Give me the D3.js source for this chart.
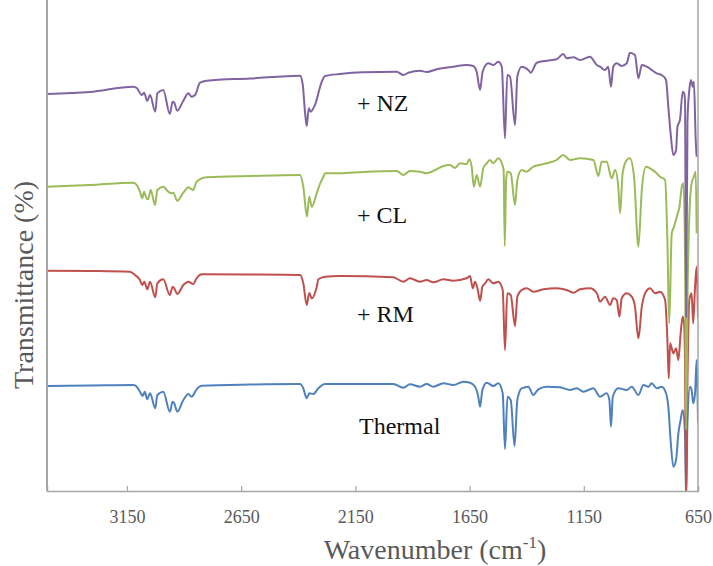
<!DOCTYPE html>
<html>
<head>
<meta charset="utf-8">
<script src="https://cdn.jsdelivr.net/npm/d3@7/dist/d3.min.js"></script>
<style>
  html, body { margin: 0; padding: 0; background: #fff; }
  svg { display: block; }
  text { font-family: "Liberation Serif", "Times New Roman", serif; }
</style>
</head>
<body>
<svg id="chart" width="713" height="566"></svg>
<script>
// ---- Data (wavenumber cm^-1, stacked transmittance in offset units) ----
const xTicks = [3150, 2650, 2150, 1650, 1150, 650];
const seriesNames = ["Thermal", "+ RM", "+ CL", "+ NZ"];

const thermal = [
  [3500,105],[3312,105.5],[3122,106],[3107,104.3],[3093,99.3],[3081,95],[3072,99.3],[3061,91.7],[3049,97.7],
  [3026,82.7],[3017,96],[2991,99.3],[2962,79.3],[2950,89.3],[2943,87.7],[2930,79.3],[2903,91],[2881,97],
  [2867,94.3],[2845,101.7],[2823,105.3],[2611,106.5],[2392,107],[2378,102.7],[2363,92.7],[2352,97.7],
  [2334,97],[2312,102.7],[2283,107],[2217,107],[1984,107],[1940,103.3],[1911,106.7],[1867,104.3],[1838,107],
  [1809,104.3],[1765,107.7],[1721,106],[1677,109.3],[1648,108.3],[1626,104.3],[1612,94.3],[1604,84.3],
  [1594,101],[1575,108.3],[1546,105],[1524,107.7],[1505,97.7],[1495,42],[1484,94.3],[1470,91],[1453,45],
  [1441,91],[1422,102.7],[1393,104.3],[1371,96],[1349,101.7],[1312,104.3],[1254,103.7],[1210,101],
  [1181,102.7],[1152,99.3],[1108,102.7],[1079,94.3],[1050,97.7],[1038,91],[1031,64.3],[1023,94.3],
  [999,102.7],[962,101],[940,104.3],[911,96],[889,106],[867,104.3],[853,107.7],[831,102.7],[809,104.3],
  [790,97.7],[780,84.3],[770,51],[758,24.3],[746,31],[736,57.7],[726,71],[717,81],[707,57.7],[702,-9],
  [696,71],[685,104.3],[678,101],[671,87.7],[663,97.7],[656,131],[650,68]
];

const rm = [
  [3500,220.3],[3312,220],[3137,219.3],[3115,216],[3093,211],[3083,206],[3074,209.3],[3061,201.7],[3049,209.3],
  [3026,193.7],[3017,207.7],[2991,211.7],[2962,196],[2950,204.3],[2943,202.7],[2930,197],[2903,206],
  [2881,209.3],[2860,207],[2845,212.7],[2823,216.7],[2611,216.5],[2392,216],[2378,207.7],[2363,186],
  [2352,198],[2341,192.7],[2319,204.3],[2312,211.7],[2283,214.3],[2217,215],[1984,213.7],[1940,209.3],
  [1911,212.7],[1867,209.3],[1838,211],[1809,208.7],[1765,211.7],[1721,210.3],[1663,212.7],[1648,215],
  [1636,202.7],[1626,209.3],[1614,201],[1604,190.3],[1594,204.3],[1582,207.7],[1568,211.7],[1546,207.7],
  [1524,209.3],[1505,201],[1495,141],[1485,197.7],[1470,196],[1451,165],[1441,194.3],[1422,201],
  [1400,202.7],[1371,199.3],[1327,201.7],[1269,202.7],[1225,201],[1196,198.3],[1166,201.7],[1123,202.7],
  [1093,197.7],[1079,189.3],[1057,194.3],[1035,186],[1021,192.7],[1006,191],[994,174.3],[984,192.7],
  [962,197.7],[940,194.3],[926,184.3],[911,152.7],[896,184.3],[878,199.3],[860,202.7],[838,197.7],
  [816,199.3],[794,191],[784,151],[778,112.7],[772,147.7],[758,137.7],[746,142.7],[736,131],[726,157.7],
  [717,174.3],[711,167.7],[707,131],[702,-9],[696,111],[688,191],[678,197.7],[671,167.7],[663,204.3],
  [656,224.3],[650,173]
];

const cl = [
  [3500,304.3],[3312,306],[3122,308.3],[3107,306],[3093,299.3],[3083,292.7],[3075,299.3],[3067,294.3],
  [3057,291.7],[3046,301],[3027,286],[3017,301],[2991,304.3],[2969,299.3],[2954,297.7],[2947,298.3],
  [2930,290.3],[2903,298.3],[2881,303.7],[2860,301],[2845,309.3],[2801,313.7],[2611,315],[2392,316],
  [2378,304.3],[2362,274.3],[2352,294.3],[2341,284.3],[2319,298],[2305,307],[2290,314.3],[2283,317.7],
  [2217,317.7],[2117,319],[1969,320],[1940,316],[1911,320],[1867,319.3],[1838,317.7],[1794,321.7],
  [1765,325],[1736,326],[1714,323],[1692,327.7],[1663,327],[1651,331.7],[1641,324.3],[1631,304.3],
  [1619,316],[1604,304.3],[1590,322.7],[1575,327.7],[1561,331],[1546,327.7],[1524,332.7],[1509,327.7],
  [1501,321],[1496,245],[1490,311],[1485,319.3],[1470,317.7],[1451,286],[1441,311],[1422,321],
  [1400,319.3],[1371,324.3],[1312,327.7],[1269,331],[1240,336],[1210,331],[1166,332.7],[1108,331],
  [1086,315],[1072,329.3],[1050,329.3],[1028,312.7],[1013,321],[999,304.3],[991,277.7],[980,317.7],
  [962,331],[948,332.7],[930,314.3],[911,244.3],[896,301],[878,324.3],[860,322.7],[831,317.7],[816,314.3],
  [794,311],[784,251],[776,167.7],[765,257.7],[755,264.3],[743,274.3],[731,284.3],[721,304.3],[714,307.7],
  [707,241],[702,61],[696,191],[688,274.3],[678,307.7],[668,314.3],[660,319.3],[656,257.7]
];

const nz = [
  [3500,397],[3312,399],[3122,404.3],[3107,403],[3085,396],[3075,398.3],[3061,390],[3049,396],[3026,379.3],
  [3017,397.7],[2991,401],[2962,377],[2950,389.3],[2943,388.3],[2930,380.3],[2903,390.3],[2881,397.7],
  [2867,394.3],[2852,396],[2830,408.3],[2801,410.3],[2611,412.5],[2392,415.3],[2381,407.7],[2370,377.7],
  [2363,365],[2354,382.7],[2346,379.3],[2327,386],[2297,409.3],[2283,415],[2217,417],[2117,418.7],
  [1969,419.3],[1940,416],[1918,418.3],[1867,420.3],[1838,419],[1794,421.7],[1721,424.3],[1663,426],
  [1634,425],[1619,419.3],[1604,401],[1593,419.3],[1568,427.7],[1546,426],[1524,429.3],[1509,424.3],
  [1495,352.7],[1485,416],[1473,414.3],[1451,366],[1441,414.3],[1422,424.3],[1393,421],[1382,418.3],
  [1356,428.3],[1312,430.3],[1269,431.7],[1240,437],[1225,432.7],[1196,433.7],[1166,431],[1123,434.3],
  [1093,426],[1079,424.3],[1057,421],[1043,424.3],[1031,404.3],[1021,424.3],[1006,427.7],[984,425],
  [962,427.7],[948,438.3],[926,436],[911,412.7],[896,426],[874,424.3],[831,417.7],[809,416],[790,411],
  [780,384.3],[770,358],[758,336],[746,341],[740,364.3],[729,371],[717,399.3],[711,398],[707,391],
  [702,174],[696,371],[688,401],[681,411],[673,404.3],[668,409.3],[660,351],[656,334.3]
];

const seriesData = [thermal, rm, cl, nz];
const seriesColors = ["#4F81BD", "#C0504D", "#9BBB59", "#8064A2"];

// ---- Layout ----
const svg = d3.select("#chart");
const margin = { left: 47, right: 15, top: 0, bottom: 75 };
const W = 713, H = 566;
const x = d3.scaleLinear().domain([3500, 650]).range([margin.left, W - margin.right]);
const y = d3.scaleLinear().domain([0, 491]).range([H - margin.bottom, margin.top]);

svg.append("defs").append("clipPath").attr("id", "plotClip")
  .append("rect")
  .attr("x", x(3500)).attr("y", y(491))
  .attr("width", x(650) - x(3500)).attr("height", y(0) - y(491));

const line = d3.line()
  .x(d => x(d[0]))
  .y(d => y(d[1]))
  .curve(d3.curveMonotoneX);

const g = svg.append("g").attr("clip-path", "url(#plotClip)");
seriesData.forEach((s, i) => {
  g.append("path")
    .datum(s)
    .attr("fill", "none")
    .attr("stroke", seriesColors[i])
    .attr("stroke-width", 2)
    .attr("stroke-linejoin", "round")
    .attr("d", line);
});

// ---- Axes ----
const axisColor = "#a6a6a6";
const xAxis = d3.axisBottom(x).tickValues(xTicks).tickSize(-5).tickPadding(19).tickFormat(d3.format("d"));
const gx = svg.append("g").attr("transform", `translate(0,${y(0)})`).call(xAxis);
gx.select(".domain").attr("stroke", axisColor).attr("stroke-width", 1.5);
gx.selectAll(".tick line").attr("stroke", axisColor).attr("stroke-width", 1.2);
gx.selectAll(".tick text")
  .attr("fill", "#595959")
  .style("font-family", "'Liberation Serif', serif")
  .style("font-size", "18px");

// left and right frame lines
svg.append("line").attr("x1", x(3500)).attr("x2", x(3500)).attr("y1", 0).attr("y2", y(0))
  .attr("stroke", axisColor).attr("stroke-width", 2);
svg.append("line").attr("x1", x(650)).attr("x2", x(650)).attr("y1", 0).attr("y2", y(0))
  .attr("stroke", axisColor).attr("stroke-width", 1.5);

// ---- Series labels ----
const labelPos = [
  { name: "Thermal", wn: 2134, v: 57 },
  { name: "+ RM", wn: 2143, v: 169.5 },
  { name: "+ CL", wn: 2143, v: 268 },
  { name: "+ NZ", wn: 2143, v: 380 }
];
svg.selectAll(".slabel").data(labelPos).enter().append("text")
  .attr("class", "slabel")
  .attr("x", d => x(d.wn))
  .attr("y", d => y(d.v))
  .attr("fill", "#111")
  .style("font-size", "24px")
  .text(d => d.name);

// ---- Axis titles ----
const xt = svg.append("text")
  .attr("x", 435).attr("y", 559)
  .attr("text-anchor", "middle")
  .attr("fill", "#595959")
  .style("font-size", "28px");
xt.append("tspan").text("Wavenumber (cm");
xt.append("tspan").attr("dy", -11).style("font-size", "17px").text("-1");
xt.append("tspan").attr("dy", 11).text(")");

svg.append("text")
  .attr("transform", "translate(33,285) rotate(-90)")
  .attr("text-anchor", "middle")
  .attr("fill", "#595959")
  .style("font-size", "28px")
  .text("Transmittance (%)");
</script>
</body>
</html>
